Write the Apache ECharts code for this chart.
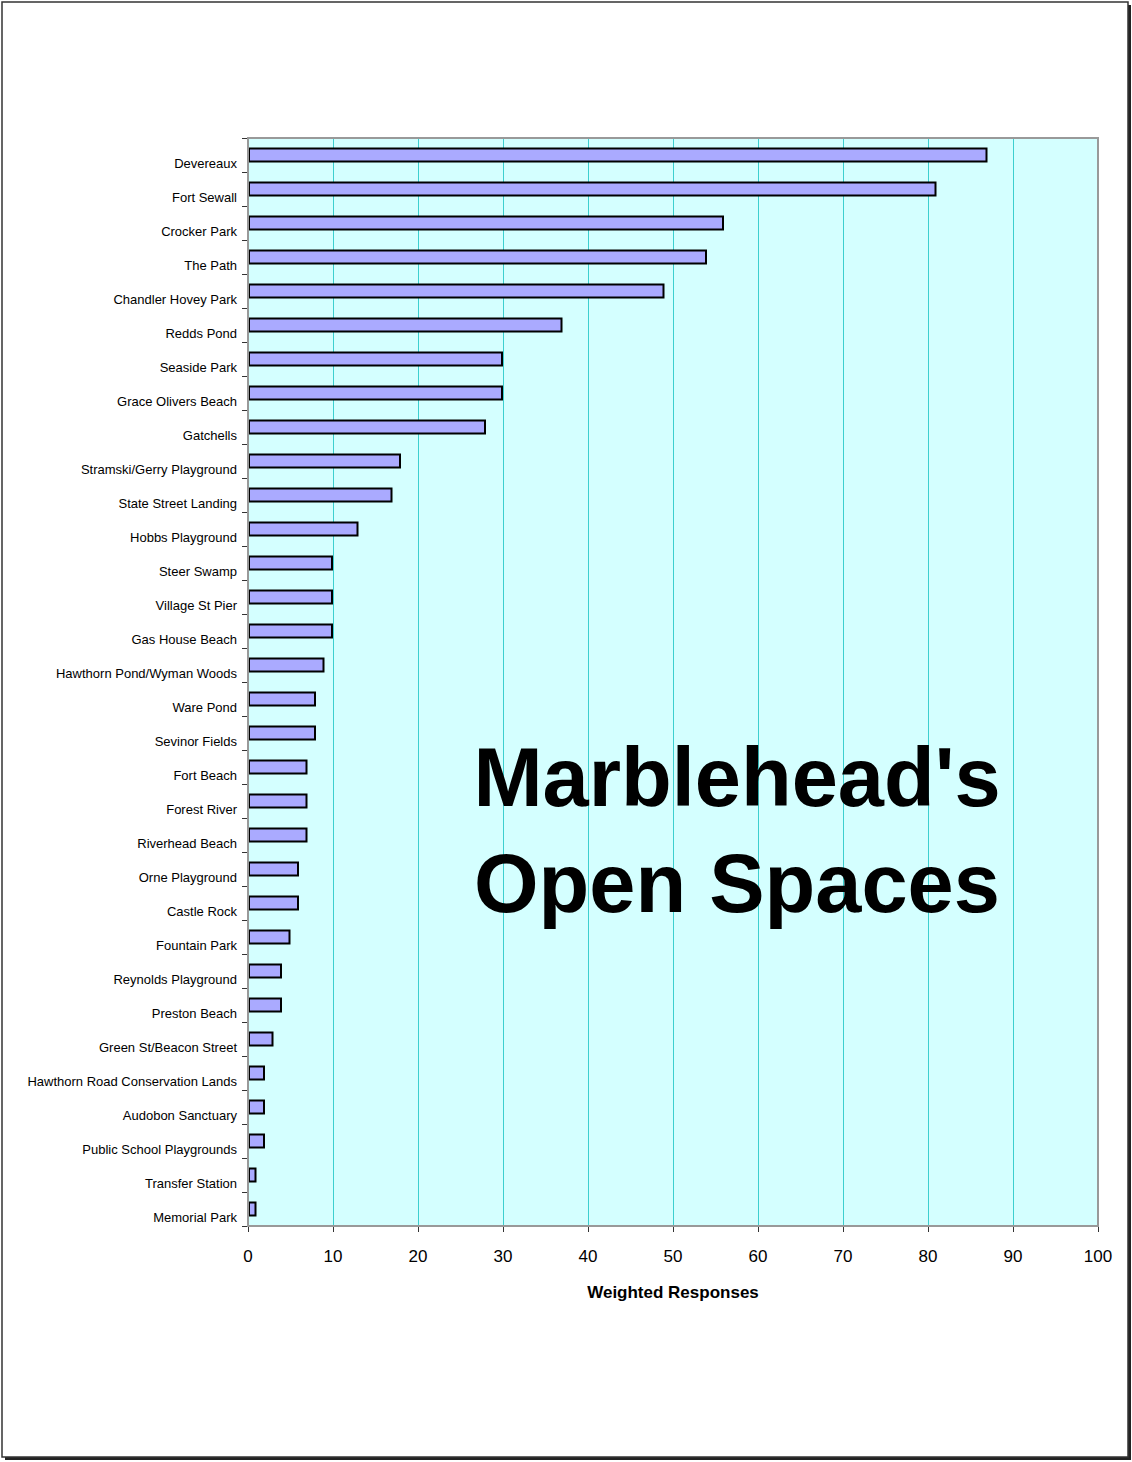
<!DOCTYPE html>
<html>
<head>
<meta charset="utf-8">
<script src="https://cdn.jsdelivr.net/npm/echarts@6/dist/echarts.min.js"></script>
<style>
  html, body { margin: 0; padding: 0; background: #fff; }
  #chart { width: 1132px; height: 1462px; }
</style>
</head>
<body>
<div id="chart"></div>
<script>
(function() {
  'use strict';

  // ========== Data ==========
  var places = [
    'Devereaux', 'Fort Sewall', 'Crocker Park', 'The Path', 'Chandler Hovey Park',
    'Redds Pond', 'Seaside Park', 'Grace Olivers Beach', 'Gatchells', 'Stramski/Gerry Playground',
    'State Street Landing', 'Hobbs Playground', 'Steer Swamp', 'Village St Pier', 'Gas House Beach',
    'Hawthorn Pond/Wyman Woods', 'Ware Pond', 'Sevinor Fields', 'Fort Beach', 'Forest River',
    'Riverhead Beach', 'Orne Playground', 'Castle Rock', 'Fountain Park', 'Reynolds Playground',
    'Preston Beach', 'Green St/Beacon Street', 'Hawthorn Road Conservation Lands', 'Audobon Sanctuary',
    'Public School Playgrounds', 'Transfer Station', 'Memorial Park'
  ];
  var responses = [
    87, 81, 56, 54, 49,
    37, 30, 30, 28, 18,
    17, 13, 10, 10, 10,
    9, 8, 8, 7, 7,
    7, 6, 6, 5, 4,
    4, 3, 2, 2,
    2, 1, 1
  ];
  var xTicks = [0, 100, 10];

  var font = 'Arial, "Liberation Sans", sans-serif';

  var chart = echarts.init(document.getElementById('chart'), null, { renderer: 'svg' });
  chart.setOption({
    animation: false,
    backgroundColor: '#fff',
    textStyle: { fontFamily: font },
    graphic: [
      // page frame with drop shadow
      { type: 'rect', z: -10, shape: { x: 5, y: 5, width: 1126, height: 1455 }, style: { fill: '#222' } },
      { type: 'rect', z: -9, shape: { x: 2, y: 2, width: 1126, height: 1455 }, style: { fill: '#fff', stroke: '#333', lineWidth: 1.5 } },
      // plot border
      { type: 'rect', z: 50, shape: { x: 248, y: 138, width: 850, height: 1088 }, style: { fill: 'none', stroke: '#999', lineWidth: 2 } },
      {
        type: 'text', z: 60,
        style: {
          x: 737, y: 830,
          text: "Marblehead's\nOpen Spaces",
          align: 'center', verticalAlign: 'middle',
          font: 'bold 83px ' + font,
          lineHeight: 106,
          fill: '#000'
        }
      }
    ],
    grid: {
      left: 248, top: 138, width: 850, height: 1088,
      show: true,
      backgroundColor: '#d4ffff',
      borderColor: '#999',
      borderWidth: 0
    },
    xAxis: {
      type: 'value',
      min: xTicks[0],
      max: xTicks[1],
      interval: xTicks[2],
      name: 'Weighted Responses',
      nameLocation: 'middle',
      nameGap: 58,
      nameTextStyle: { color: '#000', fontSize: 17, fontWeight: 'bold', fontFamily: font },
      axisLine: { show: true, lineStyle: { color: '#333', width: 1.5 } },
      axisTick: { show: true, length: 6, lineStyle: { color: '#333' } },
      axisLabel: { color: '#000', fontSize: 17, margin: 22, fontFamily: font },
      splitLine: { show: true, lineStyle: { color: '#3ccfcf', width: 1 } }
    },
    yAxis: {
      type: 'category',
      data: places,
      inverse: true,
      axisLine: { show: true, lineStyle: { color: '#000', width: 1.5 } },
      axisTick: { show: true, length: 6, alignWithLabel: false, lineStyle: { color: '#333' } },
      axisLabel: { color: '#000', fontSize: 13, margin: 11, verticalAlign: 'top', padding: [2, 0, 0, 0], fontFamily: font, interval: 0 },
      splitLine: { show: false }
    },
    series: [{
      type: 'bar',
      data: responses,
      barWidth: 15,
      itemStyle: { color: '#aaaaff', borderColor: '#000', borderWidth: 2 }
    }]
  });
})();
</script>
</body>
</html>
